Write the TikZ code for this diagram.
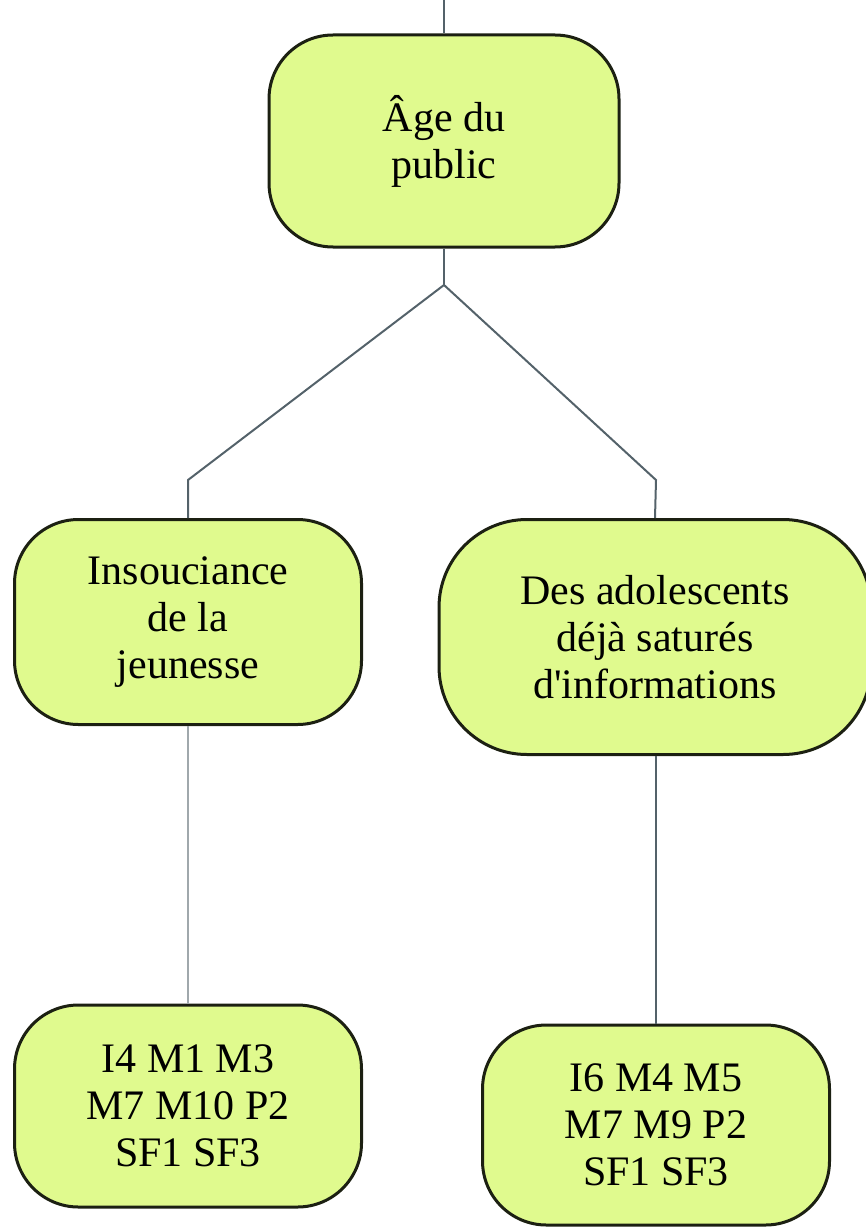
\documentclass[tikz,border=0pt]{standalone}
\usepackage{fontspec}
\setmainfont{Liberation Serif}[Ligatures=TeXOff]

\definecolor{boxfill}{RGB}{224,250,142}
\definecolor{boxline}{RGB}{28,32,18}
\definecolor{linkdark}{RGB}{84,98,106}
\definecolor{linklight}{RGB}{160,168,172}

\begin{document}
\begin{tikzpicture}[x=0.5pt,y=-0.5pt,
  idea/.style={draw=boxline, line width=1.5pt, fill=boxfill, rounded corners=32pt,
    align=center, inner sep=0pt, font=\fontsize{21}{23.5}\selectfont},
  link/.style={draw=linkdark, line width=1pt}]

\useasboundingbox (0,0) rectangle (866,1230);

% branching points
\coordinate (top) at (444,0);
\coordinate (fork) at (444,285);
\coordinate (kneeL) at (188,480);
\coordinate (kneeR) at (656,480);

% boxes
\node[idea, minimum width=175pt, minimum height=106pt] (age) at (444,141) {Âge du\\public};
\node[idea, minimum width=173.5pt, minimum height=102.5pt] (jeunesse) at (188,622)
   {Insouciance\\de la\\jeunesse};
\node[idea, minimum width=216pt, minimum height=117.5pt, rounded corners=44pt] (ados) at (655,637)
   {Des adolescents\\déjà saturés\\d'informations};
\node[idea, minimum width=173.5pt, minimum height=101pt] (codesL) at (188,1106)
   {\fontsize{21}{25}\selectfont I4 M1 M3\\M7 M10 P2\\SF1 SF3};
\node[idea, minimum width=173.5pt, minimum height=100pt] (codesR) at (656,1125)
   {\fontsize{21}{25}\selectfont I6 M4 M5\\M7 M9 P2\\SF1 SF3};

% connectors
\draw[link] (top) -- (age.north);
\draw[link] (age.south) -- (fork);
\draw[link] (fork) -- (kneeL) -- (jeunesse.north);
\draw[link] (fork) -- (kneeR) -- (ados.north);
\draw[link, draw=linklight] (jeunesse.south) -- (codesL.north);
\draw[link] (ados.south -| codesR.north) -- (codesR.north);
\end{tikzpicture}
\end{document}
